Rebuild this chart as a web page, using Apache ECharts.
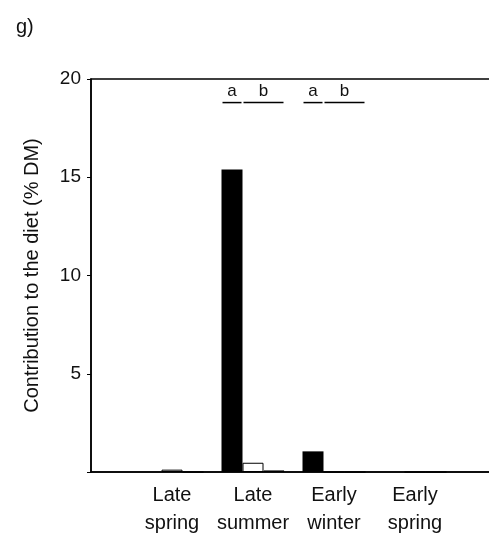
<!DOCTYPE html>
<html>
<head>
<meta charset="utf-8">
<script src="https://cdn.jsdelivr.net/npm/echarts@6/dist/echarts.min.js"></script>
<style>html,body{margin:0;padding:0;background:#fff}#c{width:489px;height:536px}</style>
</head>
<body>
<div id="c"></div>
<script>
// categories (first and last are empty padding slots on the axis)
var categories = ['', 'Late\nspring', 'Late\nsummer', 'Early\nwinter', 'Early\nspring', ''];
// series values (% DM)
var seriesA = [null, 0, 15.4, 1.05, 0, null];   // black bars
var seriesB = [null, 0.12, 0.47, 0, 0, null];    // open bars
var seriesC = [null, 0, 0.08, 0, 0, null];       // third bars
// y ticks
var yMin = 0, yMax = 20, yStep = 5;
// significance letters
var sigCategory = ['Late\nsummer', 'Late\nsummer', 'Early\nwinter', 'Early\nwinter'];
var sigLetter = ['a', 'b', 'a', 'b'];
var sigFromBar = [0, 1, 0, 1];
var sigToBar = [0, 2, 0, 2];
var sigLevel = [18.8, 18.8, 18.8, 18.8];

var BAR_W = 21;
var FONT = 'Liberation Sans, Arial, sans-serif';

var sigData = sigLetter.map(function (l, i) {
  return [categories.indexOf(sigCategory[i]), sigLevel[i], sigFromBar[i], sigToBar[i], l];
});

var chart = echarts.init(document.getElementById('c'));
chart.setOption({
  animation: false,
  title: { text: 'g)', left: 11, top: 12, textStyle: { fontFamily: FONT, fontSize: 20, fontWeight: 'normal', color: '#111' } },
  grid: { left: 91, top: 79, bottom: 64, width: 405, containLabel: false, outerBoundsMode: 'none',
    show: true, borderColor: '#000', borderWidth: 1.5 },
  xAxis: {
    type: 'category', data: categories, boundaryGap: false,
    axisLine: { lineStyle: { color: '#000', width: 1.5 } },
    axisTick: { show: false },
    axisLabel: { fontFamily: FONT, fontSize: 20, color: '#111', lineHeight: 28, margin: 9, interval: 0 },
    splitLine: { show: false }
  },
  yAxis: {
    type: 'value', min: yMin, max: yMax, interval: yStep,
    name: 'Contribution to the diet (% DM)', nameLocation: 'middle', nameGap: 49,
    nameTextStyle: { fontFamily: FONT, fontSize: 20, color: '#111' },
    axisLine: { show: true, lineStyle: { color: '#000', width: 1.5 } },
    axisTick: { show: true, length: 4, lineStyle: { color: '#000' } },
    axisLabel: { fontFamily: FONT, fontSize: 19, color: '#111', margin: 10,
      formatter: function (v) { return v === 0 ? '' : v; } },
    splitLine: { show: false }
  },
  series: [
    { type: 'bar', data: seriesA, barWidth: BAR_W, barGap: '0%', itemStyle: { color: '#000' } },
    { type: 'bar', data: seriesB, barWidth: BAR_W, barGap: '0%', itemStyle: { color: '#fff', borderColor: '#000', borderWidth: 1 } },
    { type: 'bar', data: seriesC, barWidth: BAR_W, barGap: '0%', itemStyle: { color: '#fff', borderColor: '#000', borderWidth: 1 } },
    {
      type: 'custom', data: sigData, z: 10,
      renderItem: function (params, api) {
        var c = api.coord([api.value(0), api.value(1)]);
        var left = c[0] - 1.5 * BAR_W;
        var x1 = left + api.value(2) * BAR_W + 1;
        var x2 = left + (api.value(3) + 1) * BAR_W - 1;
        return {
          type: 'group',
          children: [
            { type: 'line', shape: { x1: x1, y1: c[1], x2: x2, y2: c[1] }, style: { stroke: '#000', lineWidth: 1.5 } },
            { type: 'text', x: (x1 + x2) / 2, y: c[1] - 3, style: { text: sigLetter[params.dataIndex], fontFamily: FONT, fontSize: 17, fill: '#111', align: 'center', verticalAlign: 'bottom' } }
          ]
        };
      }
    }
  ]
});
</script>
</body>
</html>
